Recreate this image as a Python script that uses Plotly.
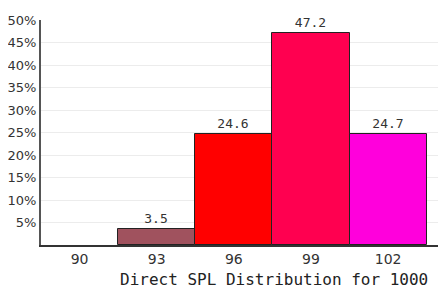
import plotly.graph_objects as go

categories = ["90", "93", "96", "99", "102"]
values = [0, 3.5, 24.6, 47.2, 24.7]
labels = ["", "3.5", "24.6", "47.2", "24.7"]
colors = ["#ffffff", "#a0525e", "#ff0000", "#ff0050", "#ff00dc"]
y_ticks = [5, 10, 15, 20, 25, 30, 35, 40, 45, 50]
y_tick_text = [f"{v}%" for v in y_ticks]
x_title = "Direct SPL Distribution for 1000"

fig = go.Figure()
fig.add_trace(go.Bar(
    x=list(range(len(categories))),
    y=values,
    marker=dict(color=colors,
                line=dict(color="#222222", width=[0 if v == 0 else 1 for v in values])),
    text=labels,
    textposition="outside",
    textfont=dict(family="DejaVu Sans Mono", size=13, color="#333333"),
    cliponaxis=False,
    width=1,
))
# x-axis title (the original chart is cropped on the right, so its title sits right of centre)
fig.add_annotation(
    text=x_title, xref="paper", yref="paper", x=0.575, y=0,
    xanchor="center", yanchor="middle", yshift=-34, showarrow=False,
    font=dict(family="DejaVu Sans Mono", size=16, color="#222222"),
)
# page body has an 8px margin, so the figure is sized/offset to fit the window
fig.update_layout(
    width=438, height=280,
    margin=dict(l=33, r=0, t=12, b=43),
    paper_bgcolor="white", plot_bgcolor="white",
    showlegend=False,
    bargap=0,
    xaxis=dict(
        range=[-0.5, 4.75],
        tickmode="array", tickvals=list(range(len(categories))), ticktext=categories,
        showgrid=False, showline=True, linecolor="#333333", linewidth=2,
        ticks="", tickfont=dict(family="DejaVu Sans", size=14, color="#333333"),
        zeroline=False, automargin=False,
    ),
    yaxis=dict(
        range=[0, 50],
        tickmode="array", tickvals=y_ticks, ticktext=y_tick_text,
        showgrid=True, gridcolor="#ececec", gridwidth=1,
        showline=True, linecolor="#555555", linewidth=2,
        ticks="", ticklabelstandoff=0,
        tickfont=dict(family="DejaVu Sans", size=13, color="#333333"),
        zeroline=False, automargin=False,
    ),
)
fig.write_html("out.html")
